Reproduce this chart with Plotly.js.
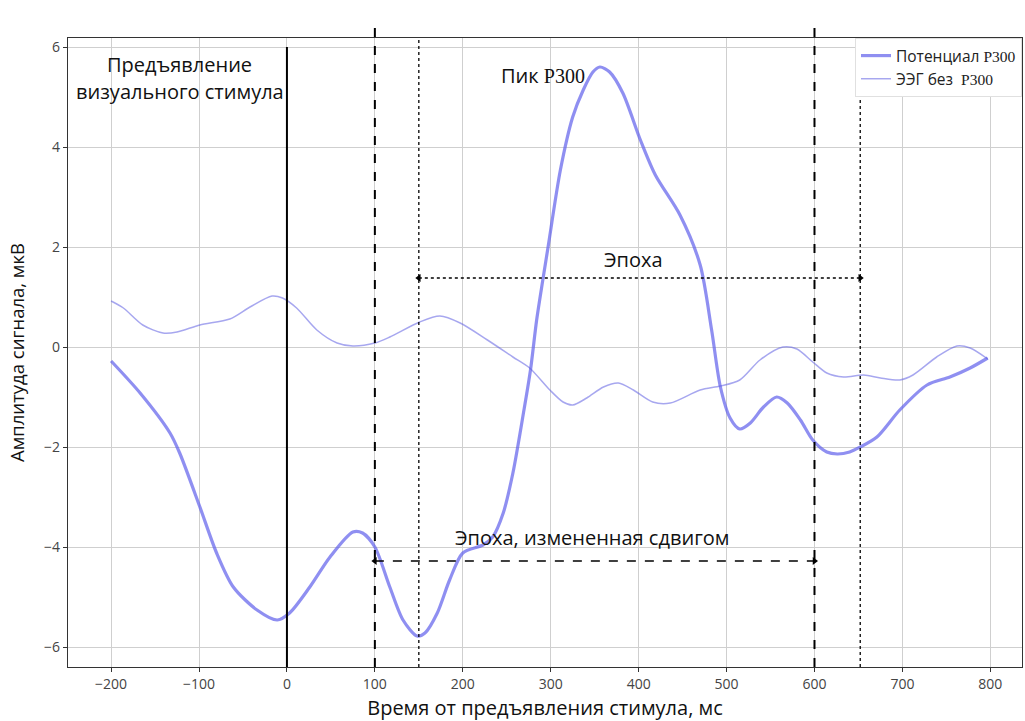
<!DOCTYPE html>
<html>
<head>
<meta charset="utf-8">
<script src="https://cdn.plot.ly/plotly-3.0.1.min.js"></script>
<style>html,body{margin:0;padding:0;background:#fff;}#chart{width:1025px;height:721px;}</style>
</head>
<body>
<div id="chart"></div>
<script>
// Thick curve: P300 potential
const p300X = [-200,-167,-133,-122,-99,-80,-61,-34,-11,3,26,49,75,86,100,117,132,148,157,171,185,200,223,234,246,257,269,277,284,291,297,311,325,337,348,356,367,382,402,419,447,470,483,493,504,515,527,542,557,569,584,598,614,626,640,652,671,697,728,754,777,797];
const p300Y = [-0.28,-0.92,-1.72,-2.12,-3.2,-4.12,-4.8,-5.26,-5.46,-5.32,-4.8,-4.2,-3.7,-3.72,-4.0,-4.8,-5.46,-5.78,-5.72,-5.32,-4.66,-4.12,-3.96,-3.8,-3.32,-2.52,-1.32,-0.46,0.54,1.34,2.0,3.54,4.6,5.14,5.5,5.6,5.5,5.08,4.14,3.44,2.64,1.64,0.34,-0.8,-1.42,-1.64,-1.52,-1.2,-1.0,-1.12,-1.46,-1.86,-2.1,-2.14,-2.1,-2.0,-1.8,-1.26,-0.76,-0.6,-0.42,-0.22];
// Thin curve: EEG without P300
const eegX = [-200,-186,-164,-141,-125,-99,-65,-42,-17,-5,11,34,57,75,100,117,151,174,197,228,257,276,299,314,325,341,360,377,394,416,436,470,493,515,538,564,580,598,614,633,656,675,697,712,739,762,777,797];
const eegY = [0.92,0.78,0.44,0.28,0.3,0.44,0.56,0.8,1.02,0.98,0.78,0.34,0.08,0.02,0.08,0.2,0.5,0.62,0.48,0.14,-0.2,-0.42,-0.86,-1.1,-1.16,-1.02,-0.8,-0.72,-0.86,-1.1,-1.12,-0.86,-0.78,-0.66,-0.26,0.0,-0.04,-0.3,-0.52,-0.6,-0.56,-0.62,-0.66,-0.56,-0.2,0.02,-0.02,-0.24];

const stimulusX = 0;
const shiftedEpoch = [100, 600];
const epoch = [150, 652];
const epochArrowY = 1.38;
const shiftedArrowY = -4.28;
const xTicks = [-200,-100,0,100,200,300,400,500,600,700,800];
const yTicks = [-6,-4,-2,0,2,4,6];
const xRange = [-249, 836];
const yRange = [-6.4, 6.18];

const serif = "'Liberation Serif', 'DejaVu Serif', serif";
const traces = [
  {x: p300X, y: p300Y, mode: 'lines', name: 'Потенциал <span style="font-family:' + serif + '">P300</span>',
   line: {color: 'rgba(95,95,235,0.7)', width: 3.2, shape: 'spline', smoothing: 0.8}},
  {x: eegX, y: eegY, mode: 'lines', name: 'ЭЭГ без  <span style="font-family:' + serif + '">P300</span>',
   line: {color: 'rgba(95,95,225,0.55)', width: 1.5, shape: 'spline', smoothing: 0.8}},
  {x: [epoch[0]], y: [epochArrowY], mode: 'markers', showlegend: false, hoverinfo: 'skip',
   marker: {symbol: 'triangle-left', size: 7, color: '#000'}},
  {x: [epoch[1]], y: [epochArrowY], mode: 'markers', showlegend: false, hoverinfo: 'skip',
   marker: {symbol: 'triangle-right', size: 7, color: '#000'}},
  {x: [shiftedEpoch[0]], y: [shiftedArrowY], mode: 'markers', showlegend: false, hoverinfo: 'skip',
   marker: {symbol: 'triangle-left', size: 7, color: '#000'}},
  {x: [shiftedEpoch[1]], y: [shiftedArrowY], mode: 'markers', showlegend: false, hoverinfo: 'skip',
   marker: {symbol: 'triangle-right', size: 7, color: '#000'}}
];

const shapes = [
  {type: 'line', xref: 'x', yref: 'y', x0: stimulusX, x1: stimulusX, y0: yRange[0], y1: 6, line: {color: '#000', width: 2}},
  {type: 'line', xref: 'x', yref: 'paper', x0: shiftedEpoch[0], x1: shiftedEpoch[0], y0: 0, y1: 1.03, line: {color: '#000', width: 2, dash: 'dash'}},
  {type: 'line', xref: 'x', yref: 'paper', x0: shiftedEpoch[1], x1: shiftedEpoch[1], y0: 0, y1: 1.03, line: {color: '#000', width: 2, dash: 'dash'}},
  {type: 'line', xref: 'x', yref: 'paper', x0: epoch[0], x1: epoch[0], y0: 0, y1: 1.0, line: {color: '#000', width: 1.3, dash: 'dot'}},
  {type: 'line', xref: 'x', yref: 'paper', x0: epoch[1], x1: epoch[1], y0: 0, y1: 1.0, line: {color: '#000', width: 1.3, dash: 'dot'}},
  {type: 'line', xref: 'x', yref: 'y', x0: epoch[0], x1: epoch[1], y0: epochArrowY, y1: epochArrowY, line: {color: '#000', width: 1.5, dash: 'dot'}},
  {type: 'line', xref: 'x', yref: 'y', x0: shiftedEpoch[0], x1: shiftedEpoch[1], y0: shiftedArrowY, y1: shiftedArrowY, line: {color: '#000', width: 1.5, dash: 'dash'}}
];

const annFont = {family: "'Open Sans', sans-serif", size: 20, color: '#111'};
const annotations = [
  {x: -122, y: 5.66, xref: 'x', yref: 'y', text: 'Предъявление', showarrow: false, font: annFont},
  {x: -122, y: 5.12, xref: 'x', yref: 'y', text: 'визуального стимула', showarrow: false, font: annFont},
  {x: 291, y: 5.44, xref: 'x', yref: 'y', text: 'Пик <span style="font-family:' + serif + '">P300</span>', showarrow: false, font: annFont},
  {x: 394, y: 1.76, xref: 'x', yref: 'y', text: 'Эпоха', showarrow: false, font: annFont},
  {x: 347, y: -3.8, xref: 'x', yref: 'y', text: 'Эпоха, измененная сдвигом', showarrow: false, font: annFont}
];

const layout = {
  width: 1025, height: 721,
  margin: {l: 68, r: 3, t: 38, b: 54},
  paper_bgcolor: '#fff', plot_bgcolor: '#fff',
  font: {family: "'Open Sans', sans-serif", color: '#444'},
  xaxis: {range: xRange, tickvals: xTicks, ticks: 'outside', ticklen: 4, tickcolor: '#333',
    showgrid: true, gridcolor: '#cfcfcf', gridwidth: 1, zeroline: false,
    showline: true, linecolor: '#333', linewidth: 1.2, mirror: true,
    tickfont: {size: 14, color: '#444'},
    title: {text: 'Время от предъявления стимула, мс', font: {size: 20, color: '#111'}, standoff: 10}},
  yaxis: {range: yRange, tickvals: yTicks, ticks: 'outside', ticklen: 4, tickcolor: '#333',
    showgrid: true, gridcolor: '#cfcfcf', gridwidth: 1, zeroline: false,
    showline: true, linecolor: '#333', linewidth: 1.2, mirror: true,
    tickfont: {size: 14, color: '#444'},
    title: {text: 'Амплитуда сигнала, мкВ', font: {size: 18.5, color: '#111'}, standoff: 14}},
  legend: {x: 1, xanchor: 'right', y: 1, yanchor: 'top', bgcolor: '#fff', bordercolor: '#e0e0e0', borderwidth: 1,
    font: {size: 15.5, color: '#222'}, tracegroupgap: 0},
  shapes: shapes,
  annotations: annotations,
  showlegend: true
};

Plotly.newPlot('chart', traces, layout, {displayModeBar: false, staticPlot: true});
</script>
</body>
</html>
